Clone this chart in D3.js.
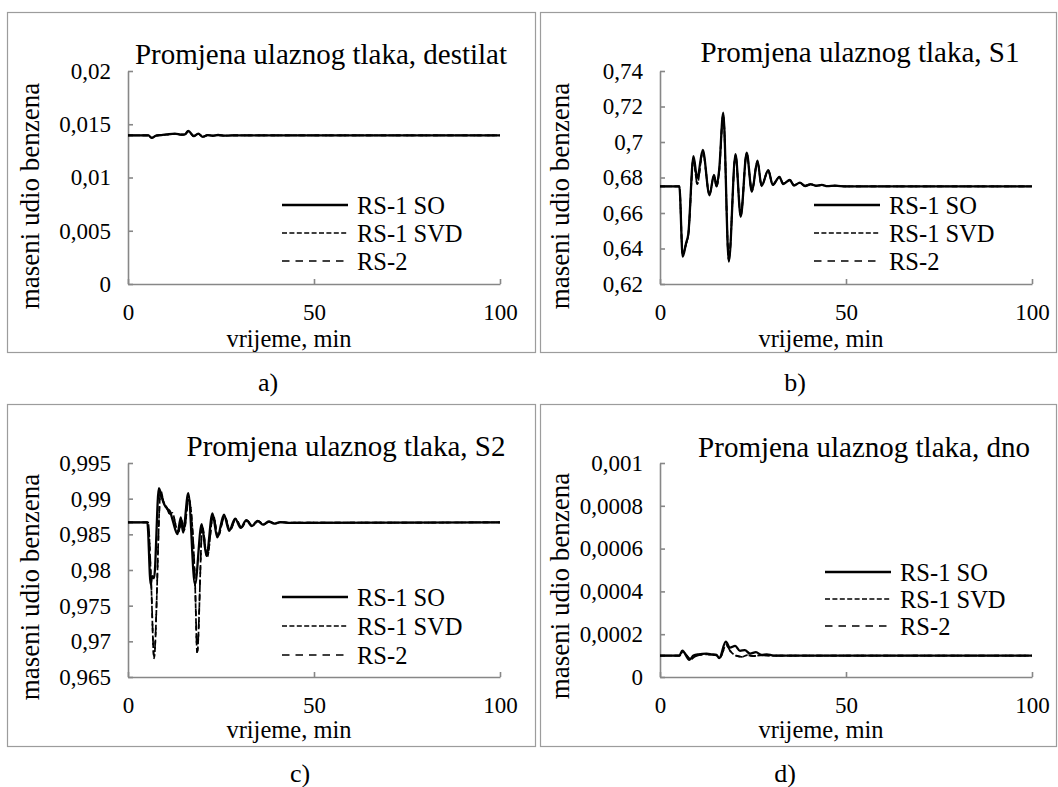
<!DOCTYPE html>
<html>
<head>
<meta charset="utf-8">
<script src="https://cdn.jsdelivr.net/npm/d3@7"></script>
<style>
  html, body { margin: 0; padding: 0; background: #fff; }
  svg { display: block; }
  svg text { font-family: "Liberation Serif", "DejaVu Serif", "Noto Serif", "Tinos", "Times New Roman", Times, serif !important; fill: #000; }
</style>
</head>
<body>
<svg id="chart" width="1058" height="787"></svg>
<script>
// ---------------- DATA ----------------
const seriesNames = ["RS-1 SO", "RS-1 SVD", "RS-2"];
const xTicks = [0, 50, 100];
const xLabel = "vrijeme, min";
const yLabel = "maseni udio benzena";

// a) destilat
const aTitle = "Promjena ulaznog tlaka, destilat";
const aYTicks = [0, 0.005, 0.01, 0.015, 0.02];
const aTime = [0, 5.5, 6.4, 7.7, 9, 10.4, 12.6, 14.4, 15.3, 16.2, 17.7, 18.9, 20.1, 21.4, 22.8, 24.2, 26, 28, 100];
const aSO  = [0.01395, 0.01395, 0.01372, 0.01396, 0.01398, 0.01404, 0.01412, 0.01402, 0.01405, 0.01438, 0.01388, 0.01412, 0.01381, 0.01398, 0.01392, 0.01399, 0.01393, 0.01395, 0.01395];
const aSVD = [0.01395, 0.01395, 0.01374, 0.01394, 0.01398, 0.01403, 0.01410, 0.01402, 0.01404, 0.01434, 0.01390, 0.01410, 0.01384, 0.01397, 0.01393, 0.01398, 0.01394, 0.01395, 0.01395];
const aRS2 = [0.01395, 0.01395, 0.01375, 0.01394, 0.01397, 0.01403, 0.01409, 0.01402, 0.01404, 0.01433, 0.01391, 0.01409, 0.01385, 0.01397, 0.01393, 0.01398, 0.01394, 0.01395, 0.01395];

// b) S1
const bTitle = "Promjena ulaznog tlaka, S1";
const bYTicks = [0.62, 0.64, 0.66, 0.68, 0.7, 0.72, 0.74];
const bTime = [0, 5.2, 6.1, 7.0, 7.6, 9.0, 10.0, 11.5, 13.3, 14.5, 15.2, 15.9, 17.0, 18.5, 20.3, 21.7, 23.3, 24.7, 26.2, 27.3, 29.1, 30.3, 32.1, 33.1, 34.9, 36.0, 37.6, 39.0, 40.5, 42.0, 43.5, 45.0, 47.0, 50, 100];
const bSO  = [0.675, 0.675, 0.6354, 0.643, 0.648, 0.692, 0.6795, 0.6955, 0.670, 0.6814, 0.6752, 0.6842, 0.7165, 0.6326, 0.6932, 0.6579, 0.694, 0.672, 0.6895, 0.6752, 0.6842, 0.6758, 0.6804, 0.6763, 0.6786, 0.6755, 0.6771, 0.6752, 0.6762, 0.6753, 0.6758, 0.6751, 0.6754, 0.675, 0.675];
const bSVD = [0.675, 0.675, 0.6365, 0.6425, 0.6475, 0.6905, 0.6762, 0.6945, 0.6705, 0.6808, 0.6748, 0.6835, 0.7155, 0.6335, 0.6925, 0.6585, 0.6935, 0.6725, 0.689, 0.6755, 0.684, 0.676, 0.6802, 0.6765, 0.6785, 0.6756, 0.677, 0.6753, 0.6762, 0.6754, 0.6758, 0.6752, 0.6754, 0.675, 0.675];
const bRS2 = [0.675, 0.675, 0.6368, 0.6424, 0.6474, 0.6902, 0.6765, 0.6943, 0.6706, 0.6807, 0.6749, 0.6834, 0.7152, 0.6337, 0.6923, 0.6587, 0.6933, 0.6726, 0.6888, 0.6756, 0.6839, 0.6761, 0.6801, 0.6766, 0.6784, 0.6757, 0.6769, 0.6753, 0.6761, 0.6754, 0.6757, 0.6752, 0.6753, 0.675, 0.675];

// c) S2
const cTitle = "Promjena ulaznog tlaka, S2";
const cYTicks = [0.965, 0.97, 0.975, 0.98, 0.985, 0.99, 0.995];
const cTimeSO = [0, 5.2, 6.1, 6.5, 7.0, 8.3, 9.2, 9.9, 10.6, 11.3, 12.0, 13.3, 14.2, 14.8, 16.2, 18.0, 19.8, 21.1, 22.7, 24.0, 25.8, 27.2, 28.8, 30.3, 31.8, 33.3, 34.8, 36.3, 37.8, 39.3, 41, 43, 100];
const cSO = [0.98667, 0.98667, 0.97797, 0.97915, 0.97882, 0.99147, 0.98997, 0.98903, 0.98856, 0.98820, 0.98700, 0.98503, 0.98738, 0.98526, 0.99077, 0.97797, 0.98644, 0.98197, 0.98794, 0.98456, 0.98776, 0.98550, 0.98720, 0.98590, 0.98700, 0.98615, 0.98690, 0.98635, 0.98680, 0.98650, 0.98672, 0.98662, 0.98667];
const cTimeD = [0, 5.4, 6.2, 7.0, 8.8, 9.6, 10.4, 11.2, 12.0, 12.8, 13.6, 14.4, 15.1, 16.3, 18.0, 18.6, 20.0, 21.3, 22.9, 24.2, 26.0, 27.4, 29.0, 30.5, 32.0, 33.5, 35, 36.5, 38, 39.5, 41, 43, 100];
const cSVD = [0.98667, 0.98667, 0.9785, 0.96762, 0.99114, 0.9895, 0.9888, 0.9879, 0.9880, 0.9863, 0.9853, 0.9870, 0.9856, 0.9900, 0.9785, 0.96833, 0.9860, 0.9818, 0.9877, 0.9847, 0.9876, 0.98555, 0.98715, 0.98595, 0.98695, 0.9862, 0.98688, 0.98638, 0.98678, 0.98652, 0.9867, 0.98663, 0.98667];
const cRS2 = [0.98667, 0.98667, 0.9787, 0.96790, 0.99105, 0.9894, 0.9887, 0.9879, 0.9879, 0.9864, 0.9854, 0.9869, 0.9857, 0.9899, 0.9787, 0.96850, 0.9859, 0.9819, 0.9876, 0.9848, 0.9875, 0.98558, 0.98712, 0.98598, 0.98692, 0.98622, 0.98686, 0.98640, 0.98676, 0.98653, 0.98669, 0.98664, 0.98667];

// d) dno
const dTitle = "Promjena ulaznog tlaka, dno";
const dYTicks = [0, 0.0002, 0.0004, 0.0006, 0.0008, 0.001];
const dTimeSO = [0, 5.2, 6.0, 7.9, 9.0, 10.3, 12.5, 13.9, 15.2, 15.9, 17.7, 18.8, 20.2, 21.5, 22.8, 24.2, 25.8, 27.3, 28.7, 30.5, 100];
const dSO = [0.0001, 0.0001, 0.000123, 0.00008, 0.0001, 0.000106, 0.000109, 0.000106, 0.000103, 0.000088, 0.000165, 0.000137, 0.000145, 0.000122, 0.000126, 0.000109, 0.000116, 0.000103, 0.000106, 0.0001, 0.0001];
const dTimeD = [0, 5.3, 6.1, 8.3, 9.5, 10.5, 12.5, 14.0, 15.3, 16.1, 17.8, 19.2, 20.5, 22.0, 23.5, 25.0, 27.0, 30.0, 100];
const dSVD = [0.0001, 0.0001, 0.000118, 0.000082, 0.000097, 0.000103, 0.000106, 0.000104, 0.0001, 0.00009, 0.00015, 0.000115, 0.0001, 0.000095, 0.000102, 0.000098, 0.000101, 0.0001, 0.0001];
const dRS2 = [0.0001, 0.0001, 0.000117, 0.000083, 0.000096, 0.000102, 0.000105, 0.000104, 0.0001, 0.000091, 0.000148, 0.000113, 0.000099, 0.000094, 0.000101, 0.000098, 0.000101, 0.0001, 0.0001];

const captions = ["a)", "b)", "c)", "d)"];

// ---------------- LAYOUT ----------------
const FONT = '"Liberation Serif", "DejaVu Serif", "Noto Serif", Tinos, "Times New Roman", Times, serif';
const svg = d3.select("#chart");
svg.append("rect").attr("width", 1058).attr("height", 787).attr("fill", "#fff");

const AXIS_COLOR = "#878787";
const BORDER_COLOR = "#9c9c9c";
const styles = [
  { width: 2.3, dash: null },
  { width: 1.7, dash: "5,2.4" },
  { width: 1.7, dash: "7.5,6" }
];

const panels = [
  { title: aTitle, yTicks: aYTicks, caption: captions[0],
    series: [[aTime, aSO], [aTime, aSVD], [aTime, aRS2]],
    box: [7, 12, 535, 352], plot: [128, 71, 500, 284],
    titlePos: [321, 64], yLabPos: [39, 196], xLabPos: [289, 347],
    leg: { x0: 282, x1: 348, tx: 357, ys: [205, 233, 261] }, capPos: [268, 391] },
  { title: bTitle, yTicks: bYTicks, caption: captions[1],
    series: [[bTime, bSO], [bTime, bSVD], [bTime, bRS2]],
    box: [540, 12, 1056, 352], plot: [660, 71, 1032, 284],
    titlePos: [860, 62], yLabPos: [569, 196], xLabPos: [821, 347],
    leg: { x0: 814, x1: 880, tx: 889, ys: [205, 233, 261] }, capPos: [795, 391] },
  { title: cTitle, yTicks: cYTicks, caption: captions[2],
    series: [[cTimeSO, cSO], [cTimeD, cSVD], [cTimeD, cRS2]],
    box: [7, 404, 535, 746], plot: [128, 463, 500, 677],
    titlePos: [346, 456], yLabPos: [39, 587], xLabPos: [289, 738],
    leg: { x0: 282, x1: 348, tx: 357, ys: [597, 626, 655] }, capPos: [300, 782] },
  { title: dTitle, yTicks: dYTicks, caption: captions[3],
    series: [[dTimeSO, dSO], [dTimeD, dSVD], [dTimeD, dRS2]],
    box: [540, 404, 1056, 746], plot: [660, 463, 1032, 677],
    titlePos: [864, 457], yLabPos: [569, 586], xLabPos: [821, 738],
    leg: { x0: 825, x1: 891, tx: 900, ys: [572, 599, 626] }, capPos: [785, 782] }
];

const fmt = v => String(v).replace(".", ",");

panels.forEach(p => {
  const g = svg.append("g").attr("font-family", FONT);
  g.append("rect")
    .attr("x", p.box[0] + 0.5).attr("y", p.box[1] + 0.5)
    .attr("width", p.box[2] - p.box[0]).attr("height", p.box[3] - p.box[1])
    .attr("fill", "none").attr("stroke", BORDER_COLOR).attr("stroke-width", 1.2);

  const yt = p.yTicks;
  const x = d3.scaleLinear().domain([0, 100]).range([p.plot[0], p.plot[2]]);
  const y = d3.scaleLinear().domain([yt[0], yt[yt.length - 1]]).range([p.plot[3], p.plot[1]]);

  const yAxis = g.append("g").attr("transform", `translate(${p.plot[0]},0)`)
    .call(d3.axisLeft(y).tickValues(yt).tickFormat(fmt).tickSize(-5).tickSizeOuter(0).tickPadding(17));
  const xAxis = g.append("g").attr("transform", `translate(0,${p.plot[3]})`)
    .call(d3.axisBottom(x).tickValues(xTicks).tickFormat(d => d).tickSize(-5).tickSizeOuter(0).tickPadding(20));
  [yAxis, xAxis].forEach(ax => {
    ax.attr("font-family", FONT).attr("font-size", 23);
    ax.select(".domain").attr("stroke", AXIS_COLOR).attr("stroke-width", 1.6);
    ax.selectAll(".tick line").attr("stroke", AXIS_COLOR).attr("stroke-width", 1.6);
    ax.selectAll(".tick text").attr("fill", "#000");
  });

  const line = d3.line().x(d => x(d[0])).y(d => y(d[1])).curve(d3.curveMonotoneX);
  [2, 1, 0].forEach(i => {
    const [ts, vs] = p.series[i];
    const pts = ts.map((t, k) => [t, vs[k]]);
    g.append("path").datum(pts)
      .attr("d", line)
      .attr("fill", "none")
      .attr("stroke", "#000")
      .attr("stroke-width", styles[i].width)
      .attr("stroke-dasharray", styles[i].dash)
      .attr("stroke-linejoin", "round");
  });

  g.append("text").attr("x", p.titlePos[0]).attr("y", p.titlePos[1])
    .attr("text-anchor", "middle").attr("font-size", 29).text(p.title);
  g.append("text")
    .attr("transform", `translate(${p.yLabPos[0]},${p.yLabPos[1]}) rotate(-90)`)
    .attr("text-anchor", "middle").attr("font-size", 27).text(yLabel);
  g.append("text").attr("x", p.xLabPos[0]).attr("y", p.xLabPos[1])
    .attr("text-anchor", "middle").attr("font-size", 24.5).text(xLabel);

  seriesNames.forEach((name, i) => {
    const ly = p.leg.ys[i];
    g.append("line")
      .attr("x1", p.leg.x0).attr("x2", p.leg.x1).attr("y1", ly).attr("y2", ly)
      .attr("stroke", "#000").attr("stroke-width", styles[i].width)
      .attr("stroke-dasharray", styles[i].dash);
    g.append("text").attr("x", p.leg.tx).attr("y", ly + 8.5)
      .attr("font-size", 24.5).text(name);
  });

  g.append("text").attr("x", p.capPos[0]).attr("y", p.capPos[1])
    .attr("text-anchor", "middle").attr("font-size", 26).text(p.caption);
});
</script>
</body>
</html>
